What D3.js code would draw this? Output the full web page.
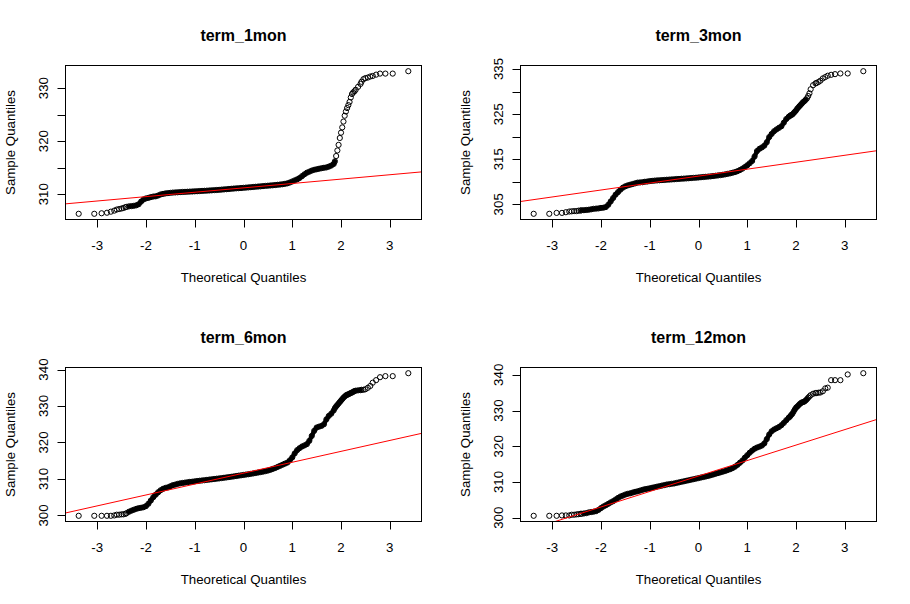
<!DOCTYPE html>
<html lang="en">
<head>
	<meta charset="UTF-8">
	<title>qqnorm</title>
	<style>
		body { margin: 0; background: #fff; }
		text { font-family: "Liberation Sans", Arial, sans-serif; fill: #000; }
	</style>
</head>
<body>
	<script src="https://cdn.jsdelivr.net/npm/d3@7/dist/d3.min.js"></script>
	<script type="text/javascript">
		var width = 910;
		var height = 604;

		// theoretical quantiles (x), the same for all four panels
		var theoretical = [
			-3.38, -3.06, -2.91, -2.80, -2.72, -2.65, -2.60, -2.55, -2.50, -2.46, -2.42,
			-2.40, -2.35, -2.30, -2.25, -2.20, -2.15, -2.10, -2.05, -2.00, -1.95,
			-1.90, -1.85, -1.80, -1.75, -1.70, -1.65, -1.60, -1.55, -1.50, -1.45,
			-1.40, -1.35, -1.30, -1.25, -1.20, -1.15, -1.10, -1.05, -1.00, -0.95,
			-0.90, -0.85, -0.80, -0.75, -0.70, -0.65, -0.60, -0.55, -0.50, -0.45,
			-0.40, -0.35, -0.30, -0.25, -0.20, -0.15, -0.10, -0.05, 0.00, 0.05,
			0.10, 0.15, 0.20, 0.25, 0.30, 0.35, 0.40, 0.45, 0.50, 0.55,
			0.60, 0.65, 0.70, 0.75, 0.80, 0.85, 0.90, 0.95, 1.00, 1.05,
			1.10, 1.15, 1.20, 1.25, 1.30, 1.35, 1.40, 1.45, 1.50, 1.55,
			1.60, 1.65, 1.70, 1.75, 1.80, 1.85,
			1.875, 1.90, 1.925, 1.95, 1.975, 2.00, 2.025, 2.05, 2.075, 2.10,
			2.125, 2.15, 2.175, 2.20, 2.225, 2.25, 2.275, 2.30, 2.35, 2.40,
			2.42, 2.46, 2.50, 2.55, 2.60, 2.65, 2.72, 2.80, 2.91, 3.06, 3.38
		];

		// sample quantiles
		var term1mon = [
			306.3, 306.3, 306.4, 306.5, 306.7, 306.9, 307.1, 307.2, 307.3, 307.4, 307.55,
			307.6, 307.7, 307.75, 307.8, 307.9, 308.1, 308.6, 309.0, 309.2, 309.3,
			309.45, 309.55, 309.6, 309.75, 309.95, 310.05, 310.15, 310.2, 310.25, 310.3,
			310.33, 310.36, 310.39, 310.42, 310.44, 310.46, 310.49, 310.51, 310.54, 310.56,
			310.59, 310.62, 310.64, 310.67, 310.7, 310.73, 310.76, 310.79, 310.82, 310.86,
			310.9, 310.94, 310.98, 311.02, 311.06, 311.1, 311.13, 311.16, 311.2, 311.24,
			311.28, 311.32, 311.36, 311.4, 311.44, 311.48, 311.52, 311.56, 311.6, 311.64,
			311.68, 311.72, 311.77, 311.82, 311.88, 311.95, 312.05, 312.2, 312.4, 312.6,
			312.8, 313.05, 313.4, 313.75, 314.05, 314.25, 314.45, 314.6, 314.7, 314.8,
			314.9, 314.98, 315.05, 315.2, 315.4, 315.7,
			316.2, 317.2, 318.25, 319.3, 320.6, 321.6, 322.6, 323.7, 324.8, 325.6,
			326.25, 326.8, 327.4, 328.25, 328.9, 329.2, 329.4, 329.7, 330.25, 330.8,
			331.2, 331.7, 331.9, 332.0, 332.2, 332.3, 332.55, 332.75, 332.75, 332.75, 333.2
		];
		var term3mon = [
			302.9, 302.9, 303.1, 303.1, 303.25, 303.4, 303.45, 303.5, 303.5, 303.6, 303.6,
			303.7, 303.7, 303.75, 303.8, 303.9, 304.0, 304.05, 304.1, 304.2, 304.25,
			304.4, 304.9, 305.65, 306.4, 307.15, 307.7, 308.25, 308.7, 309.0, 309.2,
			309.35, 309.5, 309.65, 309.8, 309.85, 309.9, 310.0, 310.05, 310.15, 310.2,
			310.25, 310.3, 310.33, 310.37, 310.4, 310.45, 310.48, 310.52, 310.55, 310.6,
			310.63, 310.67, 310.7, 310.74, 310.78, 310.82, 310.86, 310.9, 310.95, 311.0,
			311.05, 311.1, 311.15, 311.2, 311.27, 311.33, 311.4, 311.47, 311.55, 311.65,
			311.75, 311.87, 312.0, 312.15, 312.35, 312.6, 312.9, 313.25, 313.65, 314.1,
			314.6, 315.6, 316.8, 317.3, 317.6, 318.0, 318.75, 319.9, 320.6, 321.2,
			321.6, 321.95, 322.3, 323.1, 323.9, 324.4,
			324.6, 324.8, 324.9, 325.2, 325.5, 325.8, 326.2, 326.5, 326.8, 327.1,
			327.4, 327.7, 327.9, 328.2, 328.5, 329.0, 329.6, 330.5, 331.4, 331.8,
			331.9, 332.1, 332.4, 332.9, 333.2, 333.5, 333.7, 333.85, 334.0, 334.0, 334.5
		];
		var term6mon = [
			299.9, 299.9, 299.9, 299.9, 299.9, 300.0, 300.2, 300.2, 300.3, 300.3, 300.45,
			300.6, 301.0, 301.3, 301.55, 301.8, 302.0, 302.1, 302.25, 302.55, 303.2,
			304.1, 305.0, 305.7, 306.35, 306.9, 307.3, 307.55, 307.7, 308.0, 308.3,
			308.45, 308.65, 308.8, 308.9, 309.0, 309.1, 309.2, 309.25, 309.35, 309.43,
			309.51, 309.59, 309.67, 309.75, 309.83, 309.91, 309.99, 310.07, 310.15, 310.24,
			310.33, 310.42, 310.51, 310.6, 310.7, 310.8, 310.9, 311.0, 311.1, 311.2,
			311.3, 311.4, 311.52, 311.64, 311.76, 311.88, 312.0, 312.15, 312.3, 312.5,
			312.75, 313.0, 313.3, 313.6, 313.9, 314.2, 314.5, 315.1, 315.9, 317.0,
			317.9, 318.45, 318.9, 319.2, 319.55, 320.45, 321.8, 323.2, 324.1, 324.35,
			324.55, 325.0, 326.35, 327.3, 327.9, 328.8,
			329.45, 329.9, 330.3, 330.7, 331.1, 331.5, 331.9, 332.3, 332.6, 332.9,
			333.1, 333.2, 333.4, 333.55, 333.7, 333.9, 334.1, 334.2, 334.3, 334.35,
			334.45, 334.45, 334.6, 335.0, 335.5, 336.4, 337.1, 337.9, 338.2, 338.2, 339.0
		];
		var term12mon = [
			300.55, 300.55, 300.55, 300.65, 300.65, 300.65, 300.85, 300.85, 300.95, 301.0, 301.1,
			301.1, 301.2, 301.3, 301.5, 301.6, 301.7, 301.85, 302.2, 302.7, 303.15,
			303.5, 303.9, 304.3, 304.65, 305.1, 305.55, 305.95, 306.2, 306.5, 306.7,
			306.85, 307.05, 307.25, 307.4, 307.6, 307.8, 308.0, 308.1, 308.25, 308.4,
			308.55, 308.7, 308.85, 309.0, 309.15, 309.3, 309.4, 309.5, 309.6, 309.75,
			309.9, 310.05, 310.2, 310.35, 310.5, 310.65, 310.8, 310.95, 311.1, 311.25,
			311.4, 311.55, 311.7, 311.9, 312.1, 312.3, 312.5, 312.7, 312.9, 313.1,
			313.35, 313.6, 313.9, 314.3, 314.8, 315.4, 316.0, 316.8, 317.5, 318.2,
			318.8, 319.3, 319.65, 319.9, 320.2, 320.8, 322.0, 323.3, 324.2, 324.7,
			325.05, 325.4, 325.9, 326.55, 327.3, 328.0,
			328.3, 328.75, 329.1, 329.7, 330.3, 330.8, 331.1, 331.45, 331.8, 332.1,
			332.3, 332.4, 332.55, 332.85, 333.2, 333.6, 333.95, 334.3, 334.7, 334.9,
			334.9, 335.0, 335.05, 335.4, 336.2, 336.4, 338.5, 338.5, 338.5, 340.1, 340.45
		];

		var titles = ["term_1mon", "term_3mon", "term_6mon", "term_12mon"];
		var samples = [term1mon, term3mon, term6mon, term12mon];
		// qqline of each panel (intercept, slope)
		var lineIntercept = [311.19, 311.25, 311.59, 311.68];
		var lineSlope = [0.826, 1.54, 2.99, 4.33];

		var xTicks = [-3, -2, -1, 0, 1, 2, 3];
		var yTicks = [
			[310, 315, 320, 325, 330],
			[305, 310, 315, 320, 325, 330, 335],
			[300, 310, 320, 330, 340],
			[300, 310, 320, 330, 340]
		];
		var yLabels = [
			[310, 320, 330],
			[305, 315, 325, 335],
			[300, 310, 320, 330, 340],
			[300, 310, 320, 330, 340]
		];
		var sampleSize = 1380;   // number of observations behind each panel

		// panel plot regions
		var lefts = [65.5, 520.5, 65.5, 520.5];
		var tops = [65.5, 65.5, 367.5, 367.5];
		var pw = 356, ph = 154;

		function pnorm(z) {
			var t = 1 / (1 + 0.2316419 * Math.abs(z));
			var d = 0.3989423 * Math.exp(-z * z / 2);
			var p = d * t * (0.3193815 + t * (-0.3565638 + t * (1.781478 + t * (-1.821256 + t * 1.330274))));
			return z > 0 ? 1 - p : p;
		}

		// R style range: data extent plus 4% each side
		function padded(arr) {
			var e = d3.extent(arr);
			var r = e[1] - e[0];
			return [e[0] - 0.04 * r, e[1] + 0.04 * r];
		}

		var svg = d3.select("body")
			.append("svg")
			.attr("width", width)
			.attr("height", height);

		samples.forEach(function(ys, p) {
			var left = lefts[p], top = tops[p];
			var right = left + pw, bottom = top + ph;

			var x = d3.scaleLinear().domain(padded(theoretical)).range([left, right]);
			var y = d3.scaleLinear().domain(padded(ys)).range([bottom, top]);

			var g = svg.append("g");

			g.append("clipPath")
				.attr("id", "clip" + p)
				.append("rect")
				.attr("x", left).attr("y", top)
				.attr("width", pw).attr("height", ph);

			// dense stretches: real points overlap into a solid band
			var pts = theoretical.map(function(t, i) { return [x(t), y(ys[i])]; });
			var segs = [];
			for (var i = 0; i < pts.length - 1; i++) {
				var L = Math.hypot(pts[i + 1][0] - pts[i][0], pts[i + 1][1] - pts[i][1]);
				var k = sampleSize * (pnorm(theoretical[i + 1]) - pnorm(theoretical[i]));
				if (L / k < 1.5) segs.push([pts[i], pts[i + 1]]);
			}
			g.selectAll("line.band")
				.data(segs)
				.enter()
				.append("line")
				.attr("class", "band")
				.attr("x1", function(d) { return d[0][0]; })
				.attr("y1", function(d) { return d[0][1]; })
				.attr("x2", function(d) { return d[1][0]; })
				.attr("y2", function(d) { return d[1][1]; })
				.attr("stroke", "#000")
				.attr("stroke-width", 4.4)
				.attr("stroke-linecap", "round");

			g.selectAll("circle")
				.data(theoretical)
				.enter()
				.append("circle")
				.attr("cx", function(d) { return x(d); })
				.attr("cy", function(d, i) { return y(ys[i]); })
				.attr("r", 2.6)
				.attr("fill", "none")
				.attr("stroke", "#000")
				.attr("stroke-width", 1);

			// qqline
			var xd = x.domain();
			g.append("line")
				.attr("clip-path", "url(#clip" + p + ")")
				.attr("x1", x(xd[0])).attr("y1", y(lineIntercept[p] + lineSlope[p] * xd[0]))
				.attr("x2", x(xd[1])).attr("y2", y(lineIntercept[p] + lineSlope[p] * xd[1]))
				.attr("stroke", "#ff0000")
				.attr("stroke-width", 1);

			// box
			g.append("rect")
				.attr("x", left).attr("y", top)
				.attr("width", pw).attr("height", ph)
				.attr("fill", "none")
				.attr("stroke", "#000")
				.attr("stroke-width", 1);

			// x axis
			g.selectAll("line.xt")
				.data(xTicks)
				.enter()
				.append("line")
				.attr("class", "xt")
				.attr("x1", function(d) { return Math.round(x(d)) + 0.5; })
				.attr("x2", function(d) { return Math.round(x(d)) + 0.5; })
				.attr("y1", bottom).attr("y2", bottom + 8)
				.attr("stroke", "#000");
			g.selectAll("text.xl")
				.data(xTicks)
				.enter()
				.append("text")
				.attr("class", "xl")
				.attr("x", function(d) { return x(d); })
				.attr("y", bottom + 30)
				.attr("text-anchor", "middle")
				.style("font-size", "13.3px")
				.text(function(d) { return d; });

			// y axis
			g.selectAll("line.yt")
				.data(yTicks[p])
				.enter()
				.append("line")
				.attr("class", "yt")
				.attr("x1", left - 8).attr("x2", left)
				.attr("y1", function(d) { return Math.round(y(d)) + 0.5; })
				.attr("y2", function(d) { return Math.round(y(d)) + 0.5; })
				.attr("stroke", "#000");
			g.selectAll("text.yl")
				.data(yLabels[p])
				.enter()
				.append("text")
				.attr("class", "yl")
				.attr("transform", function(d) { return "translate(" + (left - 18) + "," + y(d) + ") rotate(-90)"; })
				.attr("text-anchor", "middle")
				.style("font-size", "13.3px")
				.text(function(d) { return d; });

			// titles
			g.append("text")
				.attr("x", left + pw / 2)
				.attr("y", top - 25)
				.attr("text-anchor", "middle")
				.style("font-size", "16px")
				.style("font-weight", "bold")
				.text(titles[p]);
			g.append("text")
				.attr("x", left + pw / 2)
				.attr("y", bottom + 62)
				.attr("text-anchor", "middle")
				.style("font-size", "13.3px")
				.text("Theoretical Quantiles");
			g.append("text")
				.attr("transform", "translate(" + (left - 51) + "," + (top + ph / 2) + ") rotate(-90)")
				.attr("text-anchor", "middle")
				.style("font-size", "13.3px")
				.text("Sample Quantiles");
		});
	</script>
</body>
</html>
